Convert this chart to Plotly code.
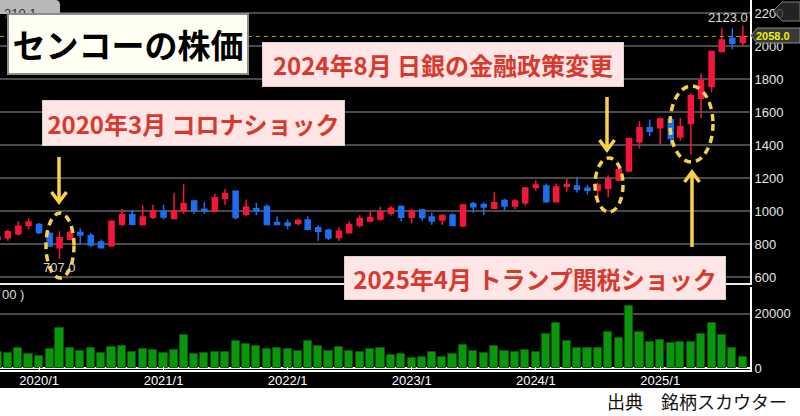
import plotly.graph_objects as go

# ---------------- data (monthly, Sep 2019 - Sep 2025) ----------------
months = [
    "2019-09-01", "2019-10-01", "2019-11-01", "2019-12-01",
    "2020-01-01", "2020-02-01", "2020-03-01", "2020-04-01", "2020-05-01", "2020-06-01",
    "2020-07-01", "2020-08-01", "2020-09-01", "2020-10-01", "2020-11-01", "2020-12-01",
    "2021-01-01", "2021-02-01", "2021-03-01", "2021-04-01", "2021-05-01", "2021-06-01",
    "2021-07-01", "2021-08-01", "2021-09-01", "2021-10-01", "2021-11-01", "2021-12-01",
    "2022-01-01", "2022-02-01", "2022-03-01", "2022-04-01", "2022-05-01", "2022-06-01",
    "2022-07-01", "2022-08-01", "2022-09-01", "2022-10-01", "2022-11-01", "2022-12-01",
    "2023-01-01", "2023-02-01", "2023-03-01", "2023-04-01", "2023-05-01", "2023-06-01",
    "2023-07-01", "2023-08-01", "2023-09-01", "2023-10-01", "2023-11-01", "2023-12-01",
    "2024-01-01", "2024-02-01", "2024-03-01", "2024-04-01", "2024-05-01", "2024-06-01",
    "2024-07-01", "2024-08-01", "2024-09-01", "2024-10-01", "2024-11-01", "2024-12-01",
    "2025-01-01", "2025-02-01", "2025-03-01", "2025-04-01", "2025-05-01", "2025-06-01",
    "2025-07-01", "2025-08-01", "2025-09-01",
]
opens = [
    828, 838, 862, 912,
    918, 864, 778, 828, 870, 852, 812, 790, 920, 978, 918, 962,
    998, 954, 1000, 1060, 1010, 1000, 1076, 1120, 980, 1014, 1028, 930,
    928, 924, 946, 898, 884, 840, 868, 914, 940, 952, 986, 1028,
    962, 1006, 964, 946, 976, 910, 1044, 1040, 1016, 1064, 1030, 1050,
    1142, 1152, 1056, 1150, 1152, 1138, 1128, 1138, 1188, 1242, 1419, 1504,
    1504, 1554, 1449, 1530, 1684, 1755, 1966, 2046, 2022,
]
highs = [
    850, 888, 938, 958,
    928, 874, 878, 884, 894, 868, 828, 944, 1012, 1008, 1034, 1038,
    1038, 1110, 1164, 1068, 1054, 1104, 1134, 1124, 1070, 1048, 1040, 968,
    948, 954, 968, 914, 892, 900, 938, 974, 1004, 1026, 1032, 1034,
    1010, 1012, 990, 980, 986, 1040, 1056, 1052, 1114, 1074, 1074, 1146,
    1186, 1166, 1166, 1196, 1208, 1158, 1170, 1216, 1262, 1443, 1544, 1554,
    1568, 1564, 1564, 1715, 1835, 1970, 2107, 2107, 2123,
]
lows = [
    820, 820, 850, 890,
    860, 784, 707, 824, 794, 784, 772, 784, 908, 912, 912, 952,
    950, 950, 984, 984, 984, 994, 1038, 948, 970, 974, 914, 912,
    890, 912, 884, 820, 824, 818, 864, 900, 932, 942, 972, 936,
    926, 942, 916, 916, 910, 902, 990, 976, 1012, 1006, 1010, 1032,
    1122, 1050, 1050, 1116, 1112, 1098, 1090, 1085, 1182, 1238, 1379, 1453,
    1403, 1399, 1427, 1343, 1564, 1721, 1960, 1980, 2000,
]
closes = [
    844, 874, 908, 934,
    870, 788, 838, 870, 854, 794, 778, 938, 978, 920, 964, 1002,
    964, 1000, 1046, 1000, 1000, 1080, 1104, 960, 1024, 1000, 918, 918,
    914, 942, 890, 878, 836, 878, 918, 954, 960, 996, 1016, 962,
    1000, 960, 940, 972, 912, 1036, 1026, 1024, 1050, 1030, 1060, 1140,
    1158, 1056, 1146, 1160, 1132, 1126, 1158, 1194, 1252, 1439, 1504, 1483,
    1558, 1439, 1510, 1699, 1791, 1966, 2036, 2016, 2058,
]
volumes = [
    5800, 5400, 7400, 5200,
    4450, 6900, 14600, 7500, 6400, 7400, 5700, 7800, 8150, 5900, 6900, 6700,
    5700, 6700, 12100, 5200, 5700, 5900, 5900, 10100, 9000, 8000, 7150, 7300,
    6900, 6200, 9900, 8150, 6300, 7900, 6300, 5900, 6900, 7300, 4700, 5300,
    3700, 3950, 5800, 4200, 5300, 8400, 6400, 5700, 8150, 6400, 5900, 6800,
    5800, 12600, 16700, 9900, 7400, 7400, 7400, 13200, 10900, 23000, 13300, 9500,
    10250, 9100, 9500, 9750, 12350, 16700, 12000, 7300, 3950,
]
price_ticks = [600, 800, 1000, 1200, 1400, 1600, 1800, 2000, 2200]
volume_ticks = [0, 20000]
volume_tick_labels = ["0", "20000"]
year_tick_dates = ["2020-01-01", "2021-01-01", "2022-01-01", "2023-01-01", "2024-01-01", "2025-01-01"]
year_tick_labels = ["2020/1", "2021/1", "2022/1", "2023/1", "2024/1", "2025/1"]

title_text = "センコーの株価"
event_texts = ["2020年3月 コロナショック", "2024年8月 日銀の金融政策変更", "2025年4月 トランプ関税ショック"]
source_text = "出典　銘柄スカウター"

# ---------------- layout geometry ----------------
W, H = 800, 416
ML, MR, MT, MB = 0, 50, 0, 46
PW = W - ML - MR
PH = H - MT - MB


def px(x):
    return (x - ML) / PW


def py(y):
    return (PH + MT - y) / PH


JP = "Noto Sans CJK JP"
LAT = "Liberation Sans, Arial, sans-serif"
RED_UP = "#f5163c"
BLUE_DN = "#1e6ef2"
YEL = "#f6d24a"
GRID = "#4a4a4a"

fig = go.Figure()
fig.add_trace(go.Candlestick(
    x=months, open=opens, high=highs, low=lows, close=closes,
    xaxis="x", yaxis="y",
    increasing=dict(line=dict(color=RED_UP, width=1.5), fillcolor=RED_UP),
    decreasing=dict(line=dict(color=BLUE_DN, width=1.5), fillcolor=BLUE_DN),
    whiskerwidth=0, hoverinfo="skip",
))
fig.add_trace(go.Bar(
    x=months, y=volumes, xaxis="x", yaxis="y2",
    width=24 * 86400000,
    marker=dict(color="#0a960a", line=dict(color="#055a05", width=1)),
    hoverinfo="skip",
))

shapes = []
# bottom white strip
shapes.append(dict(type="rect", xref="paper", yref="paper", x0=px(-5), x1=px(805),
                   y0=py(388), y1=py(420), fillcolor="white", line=dict(width=0), layer="below"))
# bright top price line (2200)
shapes.append(dict(type="line", xref="paper", yref="y", x0=0, x1=1, y0=price_ticks[-1], y1=price_ticks[-1],
                   line=dict(color="#9a9a9a", width=2), layer="below"))
# price panel bottom line
shapes.append(dict(type="line", xref="paper", yref="paper", x0=0, x1=1, y0=py(284), y1=py(284),
                   line=dict(color="#e8e8e8", width=2)))
# current price dashed line
shapes.append(dict(type="line", xref="paper", yref="y", x0=0, x1=1, y0=closes[-1], y1=closes[-1],
                   line=dict(color="#a8a800", width=1, dash="4px,4px")))

# top-left grey tab
shapes.append(dict(type="path", xref="paper", yref="paper",
                   path=f"M {px(0)},{py(0)} L {px(55)},{py(0)} Q {px(60)},{py(0)} {px(60)},{py(5)} L {px(60)},{py(14)} L {px(0)},{py(14)} Z",
                   fillcolor="#b8b8b8", line=dict(width=0)))
# top-right tag (2200)
shapes.append(dict(type="path", xref="paper", yref="paper",
                   path=f"M {px(773)},{py(11)} L {px(782)},{py(2)} L {px(800)},{py(2)} L {px(800)},{py(21)} L {px(782)},{py(21)} Z",
                   fillcolor="#2c2c2c", opacity=0.8, line=dict(color="#a0a0a0", width=1)))
# current price tag
shapes.append(dict(type="path", xref="paper", yref="paper",
                   path=f"M {px(751)},{py(35.5)} L {px(757)},{py(28)} L {px(800)},{py(28)} L {px(800)},{py(43)} L {px(757)},{py(43)} Z",
                   fillcolor="#3a3a3a", line=dict(color="#8a8a8a", width=1)))

# dashed ellipses
for (x0, x1, y0, y1) in [(46, 74, 213, 278), (595, 623, 158, 212), (670, 713, 86, 162)]:
    shapes.append(dict(type="circle", xref="paper", yref="paper", x0=px(x0), x1=px(x1), y0=py(y1), y1=py(y0),
                       line=dict(color=YEL, width=3.5, dash="7px,5px")))


# arrows (shaft + chevron)
def arrow(x, y_tail, y_tip, half=7.5, head=10):
    d = 1 if y_tip > y_tail else -1
    shapes.append(dict(type="line", xref="paper", yref="paper", x0=px(x), x1=px(x), y0=py(y_tail), y1=py(y_tip - d * 1),
                       line=dict(color=YEL, width=3.5)))
    shapes.append(dict(type="path", xref="paper", yref="paper",
                       path=f"M {px(x - half)},{py(y_tip - d * head)} L {px(x)},{py(y_tip)} L {px(x + half)},{py(y_tip - d * head)}",
                       line=dict(color=YEL, width=3.5)))


arrow(59, 157, 202)
arrow(607, 97, 150)
arrow(692, 247, 172)

annotations = []
# tab text (partly hidden by the title box)
annotations.append(dict(xref="paper", yref="paper", x=px(20), y=py(14), text="210.1", showarrow=False,
                        font=dict(family=LAT, size=13, color="#333333"), xanchor="center", yanchor="middle"))
# title box
annotations.append(dict(xref="paper", yref="paper", x=px(131), y=py(44), text=title_text, showarrow=False,
                        font=dict(family=JP, size=33, color="#000000", weight=700),
                        bgcolor="#fffff4", bordercolor="#8c8c8c", borderwidth=2, borderpad=0,
                        width=238, height=58, align="center", valign="middle",
                        xanchor="center", yanchor="middle", xshift=-3))
# event boxes
for txt, (x0, x1, y0, y1) in zip(event_texts, [(42, 345, 100, 146), (262, 624, 42, 87), (344, 726, 256, 300)]):
    annotations.append(dict(xref="paper", yref="paper", x=px((x0 + x1) / 2), y=py((y0 + y1) / 2), text=txt,
                            showarrow=False,
                            font=dict(family=JP, size=24, color="#d8392e", weight=700),
                            bgcolor="#fde6e5", bordercolor="#e2cccc", borderwidth=1, borderpad=0,
                            width=(x1 - x0) - 2, height=(y1 - y0) - 2, align="center", valign="middle",
                            xanchor="center", yanchor="middle"))
# value labels
annotations.append(dict(xref="paper", yref="paper", x=px(728), y=py(18), text=f"{max(highs):.1f}", showarrow=False,
                        font=dict(family=LAT, size=13, color="#dddddd"), xanchor="center", yanchor="middle"))
annotations.append(dict(xref="paper", yref="paper", x=px(59), y=py(267), text=f"{min(lows):.1f}", showarrow=False,
                        font=dict(family=LAT, size=13, color="#cfcfcf"), xanchor="center", yanchor="middle"))
annotations.append(dict(xref="paper", yref="paper", x=px(773), y=py(35.5), text=f"<b>{closes[-1]:.1f}</b>", showarrow=False,
                        font=dict(family=LAT, size=11, color="#f0f000"), xanchor="center", yanchor="middle"))
annotations.append(dict(xref="paper", yref="paper", x=px(0), y=py(294), text="00 )", showarrow=False,
                        font=dict(family=LAT, size=13, color="#dddddd"), xanchor="left", yanchor="middle"))
annotations.append(dict(xref="paper", yref="paper", x=px(789), y=py(401), text=source_text, showarrow=False,
                        font=dict(family=JP, size=18, color="#111111"), xanchor="right", yanchor="middle"))

fig.update_layout(
    width=W, height=H,
    margin=dict(l=ML, r=MR, t=MT, b=MB, pad=0),
    paper_bgcolor="black", plot_bgcolor="black",
    showlegend=False, boxgap=0.25, bargap=0,
    xaxis=dict(type="date", range=["2019-09-08", "2025-09-22"], anchor="y2",
               tickvals=year_tick_dates, ticktext=year_tick_labels,
               ticks="inside", ticklen=3, tickcolor="#ffffff", ticklabelstandoff=-3,
               tickfont=dict(family=LAT, size=13, color="#ffffff"),
               showline=True, linecolor="#ffffff", linewidth=2,
               showgrid=False, zeroline=False, rangeslider=dict(visible=False), fixedrange=True),
    yaxis=dict(domain=[py(285), 1], range=[551.5, 2278.8], side="right", anchor="x",
               tickvals=price_ticks, ticks="", showgrid=True, gridcolor=GRID, gridwidth=2,
               tickfont=dict(family=LAT, size=13, color="#e6e6e6"),
               showline=True, linecolor="#ffffff", linewidth=2, zeroline=False),
    yaxis2=dict(domain=[0, py(287)], range=[-737, 29834], side="right", anchor="x",
                tickvals=volume_ticks, ticktext=volume_tick_labels, ticks="", showgrid=True,
                gridcolor=GRID, gridwidth=2,
                tickfont=dict(family=LAT, size=13, color="#e6e6e6"),
                showline=True, linecolor="#ffffff", linewidth=2,
                zeroline=True, zerolinecolor="#ffffff", zerolinewidth=2),
    shapes=shapes, annotations=annotations,
)

fig.write_html("out.html", config={"displayModeBar": False},
               post_script="document.body.style.margin='0';document.body.style.overflow='hidden';")
